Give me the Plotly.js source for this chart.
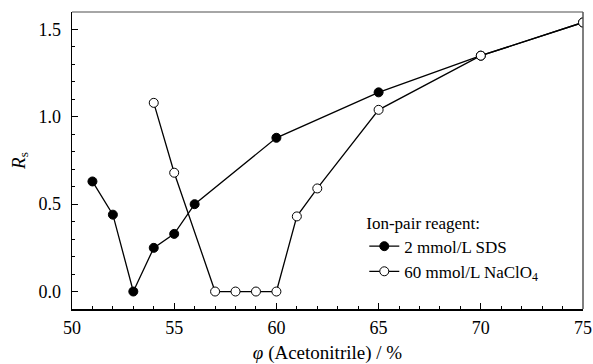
<!DOCTYPE html>
<html>
<head>
<meta charset="utf-8">
<script src="https://cdn.plot.ly/plotly-3.0.1.min.js"></script>
<style>html,body{margin:0;padding:0;background:#fff;}#chart{width:593px;height:364px;}</style>
</head>
<body>
<div id="chart"></div>
<script>
const sdsX = [51, 52, 53, 54, 55, 56, 60, 65, 70, 75];
const sdsY = [0.63, 0.44, 0.00, 0.25, 0.33, 0.50, 0.88, 1.14, 1.35, 1.54];
const naX = [54, 55, 57, 58, 59, 60, 61, 62, 65, 70, 75];
const naY = [1.08, 0.68, 0.00, 0.00, 0.00, 0.00, 0.43, 0.59, 1.04, 1.35, 1.54];
const sdsName = '2 mmol/L SDS';
const naName = '60 mmol/L NaClO<sub>4</sub>';
const legendTitle = 'Ion-pair reagent:';
const xTitle = '<i>φ</i> (Acetonitrile) / %';
const yTitle = '<i>R</i><sub>s</sub>';

const fam = 'Liberation Serif, Times New Roman, serif';
const tickFont = {family: fam, size: 18, color: '#000'};
const legFont = {family: fam, size: 17, color: '#000'};
const titleFont = {family: fam, size: 19, color: '#000'};

const traces = [
  {x: sdsX, y: sdsY, name: sdsName, mode: 'lines+markers', type: 'scatter',
   line: {color: '#000', width: 1.3},
   marker: {symbol: 'circle', size: 9, color: '#000', line: {color: '#000', width: 1}}},
  {x: naX, y: naY, name: naName, mode: 'lines+markers', type: 'scatter',
   line: {color: '#000', width: 1.3},
   marker: {symbol: 'circle', size: 9, color: '#fff', line: {color: '#000', width: 1}}}
];

const layout = {
  width: 593, height: 364,
  margin: {l: 72, r: 10, t: 12, b: 55},
  paper_bgcolor: '#fff', plot_bgcolor: '#fff',
  font: legFont,
  showlegend: true,
  legend: {x: 0.572, y: 0.345, xanchor: 'left', yanchor: 'top', bgcolor: 'rgba(0,0,0,0)',
           font: legFont, title: {text: legendTitle, font: legFont}, tracegroupgap: 0},
  xaxis: {range: [50, 75], tickvals: [50, 55, 60, 65, 70, 75], ticks: 'inside', ticklen: 6,
          tickcolor: '#000', tickwidth: 1, showline: true, linecolor: '#000', linewidth: 1.5,
          showgrid: false, zeroline: false, tickfont: tickFont, ticklabelstandoff: 2,
          minor: {dtick: 1, ticks: 'inside', ticklen: 3, tickcolor: '#000', showgrid: false},
          title: {text: xTitle, font: titleFont, standoff: 16}},
  yaxis: {range: [-0.1, 1.6], tickvals: [0, 0.5, 1.0, 1.5], ticktext: ['0.0', '0.5', '1.0', '1.5'],
          ticks: 'inside', ticklen: 6, tickcolor: '#000', tickwidth: 1, showline: true,
          linecolor: '#000', linewidth: 1.5, showgrid: false, zeroline: false, tickfont: tickFont,
          ticklabelstandoff: 6,
          minor: {dtick: 0.1, ticks: 'inside', ticklen: 3, tickcolor: '#000', showgrid: false},
          title: {text: yTitle, font: titleFont, standoff: 8}},
  shapes: [
    {type: 'line', xref: 'paper', yref: 'paper', x0: 0, x1: 1, y0: 1, y1: 1, line: {color: '#888', width: 1.5}},
    {type: 'line', xref: 'paper', yref: 'paper', x0: 1, x1: 1, y0: 0, y1: 1, line: {color: '#555', width: 1.5}}
  ]
};

Plotly.newPlot('chart', traces, layout, {displayModeBar: false, staticPlot: true});
</script>
</body>
</html>
